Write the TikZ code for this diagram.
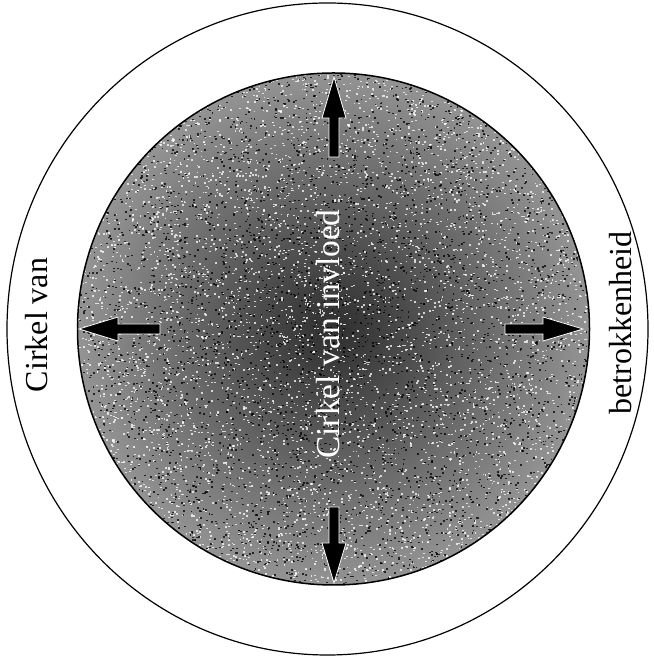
\documentclass[tikz,border=0pt]{standalone}
\usepackage{fontspec}
\setmainfont{Liberation Serif}
\usetikzlibrary{calc}
\begin{document}
\begin{tikzpicture}[x=1pt,y=1pt,
  ring/.style={draw=black,line width=1.2pt},
  arrowshape/.style={fill=black,draw=white,line width=0.8pt},
  outerlabel/.style={font=\fontsize{32}{32}\selectfont,rotate=90,inner sep=0pt},
  innerlabel/.style={font=\fontsize{33.5}{33.5}\selectfont,rotate=90,inner sep=0pt,text=white}]
\useasboundingbox (0,0) rectangle (653,661);
\fill[white] (0,0) rectangle (653,661);
% outer circle
\coordinate (oc) at (327.5,332);
\draw[ring] (oc) ellipse [x radius=320.5, y radius=326];
% inner circle
\coordinate (ic) at (333.5,332);
\shade[inner color=black!82, outer color=black!42] (ic) circle (256);
\pgfmathsetseed{7}
\begin{scope}
\clip (ic) circle (256);
\foreach \i in {1,...,5000}{
  \pgfmathsetmacro{\ang}{360*rnd}
  \pgfmathsetmacro{\rad}{256*sqrt(rnd)}
  \fill[white,opacity=0.75] ($(ic)+(\ang:\rad)$) rectangle ++(1.8,1.4);
}
\foreach \i in {1,...,4000}{
  \pgfmathsetmacro{\ang}{360*rnd}
  \pgfmathsetmacro{\rad}{256*sqrt(rnd)}
  \fill[black,opacity=0.75] ($(ic)+(\ang:\rad)$) rectangle ++(1.8,1.4);
}
\end{scope}
\draw[line width=1.5pt] (ic) circle (256);
% arrows
\coordinate (up) at (334,504);
\coordinate (down) at (334,154);
\coordinate (left) at (160,332);
\coordinate (right) at (505,332);
\filldraw[arrowshape] (up) -- ++(5,0) -- ++(0,39) -- ++(7,0) -- ++(-12,41) -- ++(-12,-41) -- ++(7,0) -- ++(0,-39) -- cycle;
\filldraw[arrowshape] (down) -- ++(5,0) -- ++(0,-36) -- ++(7,0) -- ++(-12,-40) -- ++(-12,40) -- ++(7,0) -- ++(0,36) -- cycle;
\filldraw[arrowshape] (left) -- ++(0,5) -- ++(-42,0) -- ++(0,7) -- ++(-39,-12) -- ++(39,-12) -- ++(0,7) -- ++(42,0) -- cycle;
\filldraw[arrowshape] (right) -- ++(0,5) -- ++(38,0) -- ++(0,7) -- ++(40,-12) -- ++(-40,-12) -- ++(0,7) -- ++(-38,0) -- cycle;
% labels
\node[outerlabel] (l1) at (37,336) {Cirkel van};
\node[outerlabel] (l2) at (621,338) {betrokkenheid};
\node[innerlabel] (l3) at (328,327) {Cirkel van invloed};
\end{tikzpicture}
\end{document}
